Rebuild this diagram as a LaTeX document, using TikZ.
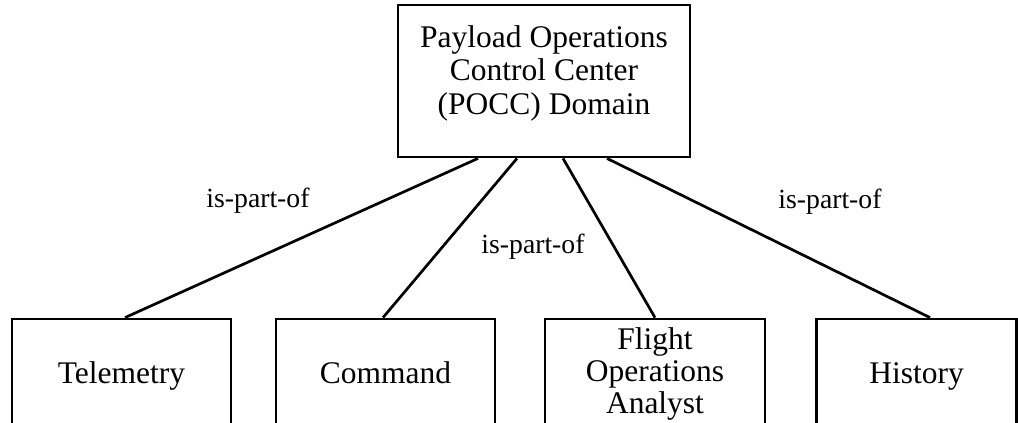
\documentclass[tikz,border=0pt]{standalone}
\usepackage{fontspec}
\setmainfont{Liberation Serif}
\begin{document}
\begin{tikzpicture}[x=1pt,y=-1pt,
  box/.style={draw=black, line width=2.8pt, rectangle, inner sep=0pt},
  boxtext/.style={font=\fontsize{31.5}{33.5}\selectfont, align=center, inner sep=0pt},
  link/.style={draw=black, line width=2.7pt},
  rel/.style={font=\fontsize{27.7}{30}\selectfont, inner sep=0pt, anchor=base}]
\useasboundingbox (0,0) rectangle (1018,423);
\clip (0,0) rectangle (1018,423);

% whole domain
\node[box, minimum width=292pt, minimum height=152pt] (pocc) at (544,81) {};
\node[boxtext] (poccT) at (544,73) {Payload Operations\\Control Center\\(POCC) Domain};

% parts (their lower edges run off the page)
\node[box, minimum width=219pt, minimum height=130pt] (tel) at (121.5,384) {};
\node[box, minimum width=219pt, minimum height=130pt] (cmd) at (385.5,384) {};
\node[box, minimum width=220pt, minimum height=130pt] (foa) at (655,384) {};
\node[box, minimum width=200pt, minimum height=130pt] (his) at (916.5,384) {};

\node[boxtext, anchor=base] (telT) at (121.5,383) {Telemetry};
\node[boxtext, anchor=base] (cmdT) at (385.5,383) {Command};
\node[boxtext, font=\fontsize{31.5}{32}\selectfont] (foaT) at (655,374) {Flight\\Operations\\Analyst};
\node[boxtext, anchor=base] (hisT) at (916.5,383) {History};

% is-part-of links
\draw[link] ([xshift=3.5pt]tel.north) -- ([xshift=-66pt]pocc.south);
\draw[link] ([xshift=-2.5pt]cmd.north) -- ([xshift=-27pt]pocc.south);
\draw[link] (foa.north) -- ([xshift=19pt]pocc.south);
\draw[link] ([xshift=13.5pt]his.north) -- ([xshift=63pt]pocc.south);

\node[rel] (r1) at (258,207) {is-part-of};
\node[rel] (r2) at (533,253) {is-part-of};
\node[rel] (r3) at (830,208) {is-part-of};
\end{tikzpicture}
\end{document}
